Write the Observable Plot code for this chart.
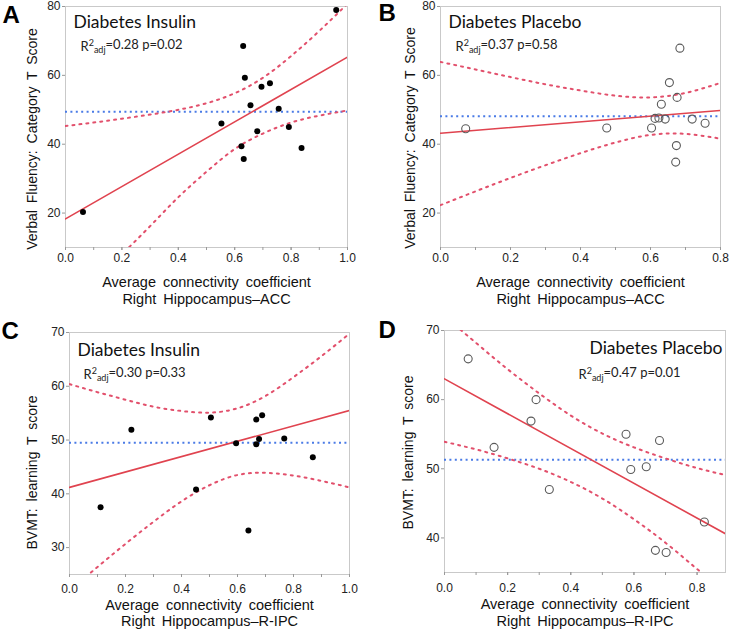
<!DOCTYPE html>
<html>
<head>
<meta charset="utf-8">
<script src="https://cdn.jsdelivr.net/npm/d3@7"></script>
<script src="https://cdn.jsdelivr.net/npm/@observablehq/plot@0.6"></script>
<style>
  html, body { margin: 0; padding: 0; background: #fff; }
  #wrap { position: relative; width: 730px; height: 631px; overflow: hidden; background: #fff; }
  .panel { position: absolute; }
</style>
</head>
<body>
<div id="wrap"></div>
<script>
// ---------- Panel A : Diabetes Insulin, Verbal fluency vs R Hippocampus–ACC ----------
const aX = [0.062, 0.553, 0.630, 0.636, 0.624, 0.632, 0.656, 0.680, 0.695, 0.725, 0.756, 0.792, 0.837, 0.960];
const aY = [20.3, 46.0, 68.5, 59.3, 39.4, 35.7, 51.3, 43.8, 56.7, 57.7, 50.3, 45.0, 38.9, 79.0];
const aFitX = [0, 1];
const aFitY = [18.3, 65.3];
const aMean = 49.4;
const aBandX  = [0, 0.1, 0.2, 0.3, 0.4, 0.5, 0.6, 0.7, 0.8, 0.9, 1.0];
const aBandUp = [45.3, 46.3, 47.4, 48.6, 50.0, 51.9, 54.8, 59.3, 65.6, 72.9, 80.8];
const aBandLo = [-8.7, -0.3, 8.0, 16.2, 24.6, 32.0, 38.6, 43.1, 46.3, 48.3, 49.8];

// ---------- Panel B : Diabetes Placebo, Verbal fluency vs R Hippocampus–ACC ----------
const bX = [0.072, 0.475, 0.603, 0.613, 0.624, 0.631, 0.642, 0.654, 0.676, 0.674, 0.672, 0.684, 0.719, 0.756];
const bY = [44.5, 44.7, 44.7, 47.5, 47.6, 51.6, 47.3, 57.9, 53.6, 39.6, 34.8, 67.9, 47.3, 46.1];
const bFitX = [0, 0.8];
const bFitY = [43.2, 49.8];
const bMean = 48.1;
const bBandX  = [0, 0.1, 0.2, 0.3, 0.4, 0.5, 0.6, 0.7, 0.8];
const bBandUp = [63.9, 61.7, 59.5, 57.4, 55.6, 54.1, 53.6, 54.9, 57.8];
const bBandLo = [22.3, 26.3, 30.2, 33.9, 37.4, 40.5, 42.7, 43.0, 41.6];

// ---------- Panel C : Diabetes Insulin, BVMT learning vs R Hippocampus–R-IPC ----------
const cX = [0.111, 0.221, 0.452, 0.505, 0.595, 0.639, 0.667, 0.667, 0.677, 0.688, 0.767, 0.869];
const cY = [37.5, 51.9, 40.8, 54.2, 49.4, 33.2, 53.8, 49.2, 50.2, 54.6, 50.3, 46.8];
const cFitX = [0, 1];
const cFitY = [41.2, 55.5];
const cMean = 49.5;
const cBandX  = [0, 0.1, 0.2, 0.3, 0.4, 0.5, 0.6, 0.7, 0.8, 0.9, 1.0];
const cBandUp = [60.4, 58.9, 57.5, 56.2, 55.4, 55.1, 55.9, 58.2, 61.7, 65.6, 69.8];
const cBandLo = [22.0, 26.4, 30.7, 34.8, 38.6, 41.6, 43.5, 43.9, 43.4, 42.4, 41.2];

// ---------- Panel D : Diabetes Placebo, BVMT learning vs R Hippocampus–R-IPC ----------
const dX = [0.075, 0.157, 0.274, 0.290, 0.332, 0.575, 0.590, 0.639, 0.681, 0.668, 0.702, 0.823];
const dY = [65.9, 53.1, 56.9, 60.0, 47.0, 55.0, 49.9, 50.3, 54.1, 38.2, 37.9, 42.3];
const dFitX = [0, 0.89];
const dFitY = [63.0, 40.6];
const dMean = 51.3;
const dBandX  = [0, 0.1, 0.2, 0.3, 0.4, 0.5, 0.6, 0.7, 0.8, 0.89];
const dBandUp = [72.1, 68.2, 64.4, 60.9, 57.7, 55.1, 53.1, 51.5, 50.1, 49.1];
const dBandLo = [53.9, 52.8, 51.5, 50.0, 48.1, 45.7, 42.7, 39.3, 35.5, 32.1];

// ---------- tick labels ----------
const xTicks10 = [0, 0.2, 0.4, 0.6, 0.8, 1.0];
const xMinor10 = [0, 0.1, 0.2, 0.3, 0.4, 0.5, 0.6, 0.7, 0.8, 0.9, 1.0];
const xTicks08 = [0, 0.2, 0.4, 0.6, 0.8];
const xMinor08 = [0, 0.1, 0.2, 0.3, 0.4, 0.5, 0.6, 0.7, 0.8];
const yTicksVF = [20, 40, 60, 80];
const yTicksC = [30, 40, 50, 60, 70];
const yTicksD = [40, 50, 60, 70];

// ---------- texts ----------
const letters = ["A", "B", "C", "D"];
const titles = ["Diabetes Insulin", "Diabetes Placebo", "Diabetes Insulin", "Diabetes Placebo"];
const stats = ["=0.28 p=0.02", "=0.37 p=0.58", "=0.30 p=0.33", "=0.47 p=0.01"];
const yLabels = ["Verbal Fluency: Category T Score", "Verbal Fluency: Category T Score", "BVMT: learning T score", "BVMT: learning T score"];
const xLabel1 = "Average connectivity coefficient";
const xLabels2 = ["Right Hippocampus\u2013ACC", "Right Hippocampus\u2013ACC", "Right Hippocampus\u2013R-IPC", "Right Hippocampus\u2013R-IPC"];

const panels = [
  {i: 0, left: 0, top: 0, h: 315, m: [6, 18, 68, 65], xd: [0, 1], yd: [10, 80], xt: xTicks10, xm: xMinor10, yt: yTicksVF,
   X: aX, Y: aY, filled: true, fx: aFitX, fy: aFitY, mean: aMean, bx: aBandX, bu: aBandUp, bl: aBandLo,
   tdx: 8, tdy: 21, tAnchor: "start", sdx: 15, sdy: 44, ydx: -33, ydy: 12, pad: 3, l1: 35, l2: 52, ldx: -63, ldy: 16},
  {i: 1, left: 365, top: 0, h: 315, m: [6, 10, 68, 75], xd: [0, 0.8], yd: [10, 80], xt: xTicks08, xm: xMinor08, yt: yTicksVF,
   X: bX, Y: bY, filled: false, fx: bFitX, fy: bFitY, mean: bMean, bx: bBandX, bu: bBandUp, bl: bBandLo,
   tdx: 8, tdy: 21, tAnchor: "start", sdx: 15, sdy: 44, ydx: -30, ydy: 11, pad: 3, l1: 35, l2: 52, ldx: -62, ldy: 14},
  {i: 2, left: 0, top: 315, h: 316, m: [17, 16, 57, 69], xd: [0, 1], yd: [25, 70], xt: xTicks10, xm: xMinor10, yt: yTicksC,
   X: cX, Y: cY, filled: true, fx: cFitX, fy: cFitY, mean: cMean, bx: cBandX, bu: cBandUp, bl: cBandLo,
   tdx: 8, tdy: 23, tAnchor: "start", sdx: 14, sdy: 46, ydx: -37, ydy: 19, pad: 7, l1: 31, l2: 47, ldx: -68, ldy: 6},
  {i: 3, left: 365, top: 315, h: 316, m: [15, 5, 59, 79], xd: [0, 0.89], yd: [35, 70], xt: xTicks08, xm: xMinor08, yt: yTicksD,
   X: dX, Y: dY, filled: false, fx: dFitX, fy: dFitY, mean: dMean, bx: dBandX, bu: dBandUp, bl: dBandLo,
   tdx: -3, tdy: 23, tAnchor: "end", sdx: 134, sdy: 48, ydx: -36, ydy: 1, pad: 8, l1: 32, l2: 49, ldx: -66, ldy: 7}
];

const wrap = document.getElementById("wrap");
const RED = "#e0434f", REDDOT = "#e2506c", BLUE = "#4a7be6";

for (const p of panels) {
  const pts = p.X.map((x, k) => ({x, y: p.Y[k]}));
  const fit = p.fx.map((x, k) => ({x, y: p.fy[k]}));
  const up = p.bx.map((x, k) => ({x, y: p.bu[k]}));
  const lo = p.bx.map((x, k) => ({x, y: p.bl[k]}));
  const [mt, mr, mb, ml] = p.m;
  const chart = Plot.plot({
    width: 365, height: p.h,
    marginTop: mt, marginRight: mr, marginBottom: mb, marginLeft: ml,
    style: {fontFamily: "'Liberation Sans', Arial, sans-serif", fontSize: "12px", color: "#222", background: "#fff", overflow: "visible"},
    x: {domain: p.xd},
    y: {domain: p.yd},
    marks: [
      Plot.frame({stroke: "#c9c9c9"}),
      Plot.axisX({ticks: p.xm, tickFormat: () => "", tickSize: 3, stroke: "#999", label: null}),
      Plot.axisX({ticks: p.xt, tickFormat: d3.format(".1f"), tickSize: 3, tickPadding: p.pad, stroke: "#999", fill: "#222", label: null}),
      Plot.axisY({ticks: p.yt, tickFormat: d3.format("d"), tickSize: 3, tickPadding: 2, stroke: "#999", fill: "#222", label: null}),
      Plot.ruleY([p.mean], {stroke: BLUE, strokeWidth: 2, strokeDasharray: "2,3.4"}),
      Plot.line(up, {x: "x", y: "y", curve: "natural", stroke: REDDOT, strokeWidth: 2, strokeDasharray: "2,5", clip: true}),
      Plot.line(lo, {x: "x", y: "y", curve: "natural", stroke: REDDOT, strokeWidth: 2, strokeDasharray: "2,5", clip: true}),
      Plot.line(fit, {x: "x", y: "y", stroke: RED, strokeWidth: 1.6, clip: true}),
      p.filled
        ? Plot.dot(pts, {x: "x", y: "y", r: 3, fill: "#000", stroke: "none"})
        : Plot.dot(pts, {x: "x", y: "y", r: 4, fill: "none", stroke: "#5a5a5a", strokeWidth: 1.1}),
      Plot.text([titles[p.i]], {text: d => d, frameAnchor: p.tAnchor === "start" ? "top-left" : "top-right", dx: p.tdx, dy: p.tdy,
        textAnchor: p.tAnchor, lineAnchor: "bottom", fontSize: 17.5, fontFamily: "Lato, 'Open Sans', sans-serif", fill: "#111"}),
      Plot.text(["R" + stats[p.i]], {text: d => d, frameAnchor: "top-left", dx: p.sdx, dy: p.sdy,
        textAnchor: "start", lineAnchor: "bottom", fontSize: 13, fontFamily: "Lato, 'Open Sans', sans-serif", fill: "#222"}),
      Plot.text([yLabels[p.i]], {text: d => d, frameAnchor: "left", dx: p.ydx, dy: p.ydy, rotate: -90,
        textAnchor: "middle", lineAnchor: "middle", fontSize: 14, fill: "#111"}),
      Plot.text([xLabel1], {text: d => d, frameAnchor: "bottom", dy: p.l1, textAnchor: "middle", lineAnchor: "middle", fontSize: 14.5, fill: "#111"}),
      Plot.text([xLabels2[p.i]], {text: d => d, frameAnchor: "bottom", dy: p.l2, textAnchor: "middle", lineAnchor: "middle", fontSize: 14.5, fill: "#111"}),
      Plot.text([letters[p.i]], {text: d => d, frameAnchor: "top-left", dx: p.ldx, dy: p.ldy, textAnchor: "start", lineAnchor: "bottom",
        fontSize: 24, fontWeight: "bold", fill: "#000"})
    ]
  });
  // word spacing for the axis titles, superscript/subscript for the statistics text
  d3.select(chart).selectAll("text").each(function () {
    const t = this.textContent;
    if (t === xLabel1 || t === yLabels[p.i] || t === xLabels2[p.i]) d3.select(this).style("word-spacing", "3px");
    if (t === "R" + stats[p.i]) {
      const el = d3.select(this);
      el.text(null);
      el.append("tspan").text("R");
      el.append("tspan").attr("dy", "-0.45em").attr("font-size", "9").text("2");
      el.append("tspan").attr("dy", "0.75em").attr("font-size", "9").text("adj");
      el.append("tspan").attr("dy", "-0.3em").text(stats[p.i]);
    }
  });
  const div = document.createElement("div");
  div.className = "panel";
  div.style.left = p.left + "px";
  div.style.top = p.top + "px";
  div.appendChild(chart);
  wrap.appendChild(div);
}
</script>
</body>
</html>
